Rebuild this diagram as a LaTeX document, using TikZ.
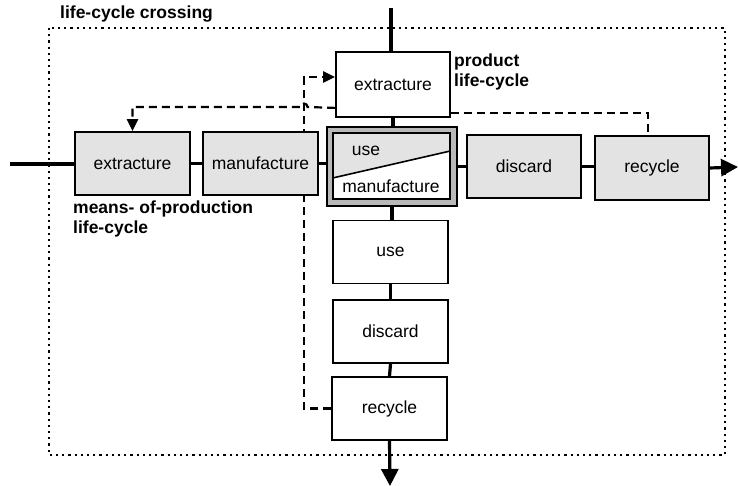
\documentclass[tikz,border=0pt]{standalone}
\usepackage{fontspec}
\setmainfont{Liberation Sans}
\usetikzlibrary{arrows.meta,calc,backgrounds}
\begin{document}
\begin{tikzpicture}[x=1pt,y=-1pt,
  box/.style={draw, line width=1.8pt, minimum width=115pt, minimum height=63pt, inner sep=0pt, font=\fontsize{17.5}{20}\selectfont},
  gbox/.style={box, fill=gray!22},
  wbox/.style={box, fill=white},
  conn/.style={line width=3.2pt},
  fb/.style={line width=2.2pt, dash pattern=on 8pt off 5pt},
  lbl/.style={font=\bfseries\fontsize{17.5}{20}\selectfont, align=left, anchor=north west, inner sep=0pt},
  tip/.style={-{Triangle[length=17pt,width=17pt]}},
  ftip/.style={-{Triangle[length=12pt,width=11pt]}}
]
\useasboundingbox (0,0) rectangle (738,486);
% frame
\draw[line width=2.2pt, dash pattern=on 2.2pt off 4pt] (49,28) rectangle (725,455);
\node[lbl] (title) at (60,6) {life-cycle crossing};

% means-of-production row
\node[gbox] (mext) at (132.5,163.5) {extracture};
\node[gbox] (mman) at (260.5,163.5) {manufacture};
\node[lbl] (mlbl) at (73,201) {means- of-production\\life-cycle};

% product column
\node[wbox, minimum height=65pt, minimum width=114pt] (pext) at (393,84.5) {extracture};
\node[lbl] (plbl) at (454,54) {product\\life-cycle};

% crossing box
\node[draw, line width=1.8pt, fill=gray!55, minimum width=130pt, minimum height=79pt, inner sep=0pt] (usebox) at (392,166.5) {};
\coordinate (inNW) at ([shift={(7pt,-7pt)}]usebox.north west);
\coordinate (inSE) at ([shift={(-8pt,8pt)}]usebox.south east);
\coordinate (inNE) at (inNW -| inSE);
\coordinate (inSW) at (inNW |- inSE);
\fill[white] (inNW) rectangle (inSE);
\fill[gray!22] (inNW) -- (inNE) -- ([yshift=-18pt]inNE) -- ([yshift=21pt]inSW) -- cycle;
\draw[line width=1.8pt] (inNW) rectangle (inSE);
\draw[line width=1.6pt] ([yshift=21pt]inSW) -- ([yshift=-18pt]inNE);
\node[font=\fontsize{17.5}{20}\selectfont, inner sep=0pt] (usetxt) at (366,151) {use};
\node[font=\fontsize{17.5}{20}\selectfont, inner sep=0pt] (mantxt) at (391,186) {manufacture};

\node[gbox, minimum width=114pt] (rdis) at (524,166.5) {discard};
\node[gbox, minimum width=114pt, minimum height=64pt] (rrec) at (652,168) {recycle};

\node[wbox] (luse) at (390.5,252) {use};
\node[wbox] (ldis) at (390.5,331.5) {discard};
\node[wbox] (lrec) at (389.5,408.5) {recycle};

% solid connectors
\coordinate (inL) at (10,164);
\coordinate (topIn) at (391,8);
\coordinate (botOut) at (390,486);
\coordinate (rightOut) at (738,167);
\draw[conn] (inL) -- (mext.west |- inL);
\draw[conn] (mext.east) -- (mman.west);
\draw[conn] (mman.east) -- (mman.east -| usebox.west);
\draw[conn] (usebox.east) -- (usebox.east -| rdis.west);
\draw[conn] (rdis.east) -- (rdis.east -| rrec.west);
\draw[conn, tip] (rrec.east) -- (rightOut);
\draw[conn] (topIn) -- (topIn |- pext.north);
\draw[conn] (pext.south) -- (pext.south |- usebox.north);
\draw[conn] (usebox.south) -- (usebox.south |- luse.north);
\draw[conn] (luse.south) -- (ldis.north);
\draw[conn] (ldis.south) -- (lrec.north);
\draw[conn, tip] (lrec.south) -- (botOut);

% dashed feedback lines (behind the boxes)
\begin{scope}[on background layer]
\coordinate (hop) at (304,107);
\draw[fb, ftip] ([yshift=10pt]pext.south west) -- ([xshift=3.5pt]hop)
   arc[start angle=0, end angle=180, radius=3.5pt] -- (mext.north |- hop) -- (mext.north);
\draw[fb, ftip] (lrec.west) -- (lrec.west -| hop) |- ([yshift=7.5pt]pext.west);
\draw[fb] ([yshift=5pt]pext.south east) -| ([xshift=-4pt]rrec.north);
\end{scope}
\end{tikzpicture}
\end{document}
